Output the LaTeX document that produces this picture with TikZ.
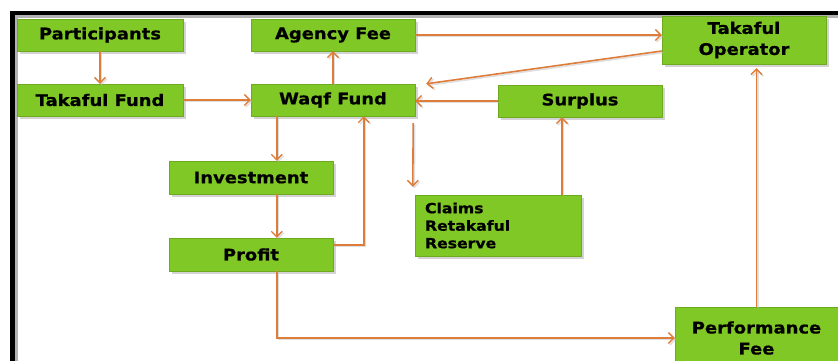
\documentclass[tikz,border=0pt]{standalone}
\usepackage{fontspec}
\setmainfont{DejaVu Sans}[FakeStretch=1.12, BoldFeatures={FakeBold=0.6}]
\usetikzlibrary{arrows.meta,shadows,calc}
\definecolor{boxgreen}{RGB}{128,200,38}
\definecolor{flow}{RGB}{222,124,58}
\tikzset{
  stepbox/.style={draw=boxgreen!85!black, line width=0.4pt, fill=boxgreen,
    minimum width=164pt, minimum height=32pt, inner sep=2pt,
    font=\bfseries\fontsize{16}{21}\selectfont, text=black, align=center,
    drop shadow={opacity=0.35, shadow xshift=2.5pt, shadow yshift=-3pt}},
  flowline/.style={draw=flow, line width=1.6pt,
    preaction={draw=black!25, line width=1.6pt, opacity=0.5, transform canvas={xshift=1.5pt,yshift=-1.5pt}}},
  arr/.style={flowline, -{Straight Barb[length=5.5pt,width=11pt,line width=1.4pt]}},
}
\begin{document}
\begin{tikzpicture}[x=1pt,y=-1pt]
\useasboundingbox (0,0) rectangle (838,361);
\clip (0,0) rectangle (838,361);
% outer frame (top and left edges)
\draw[black!30, line width=4pt] (14,16) -- (838,16);
\draw[black!30, line width=4pt] (16,15) -- (16,361);
\draw[black, line width=4pt] (10,13) -- (838,13);
\draw[black, line width=5pt] (12.5,11) -- (12.5,361);

% boxes
\node[stepbox, minimum width=166pt] (part)    at (100,35)   {Participants};
\node[stepbox]                      (agency)  at (333,35)   {Agency Fee};
\node[stepbox, minimum height=48pt] (oper)    at (744,40)   {\raisebox{-2pt}{Takaful}\\\raisebox{-2pt}{Operator}};
\node[stepbox, minimum width=166pt] (tfund)   at (100,100)  {Takaful Fund};
\node[stepbox]                      (waqf)    at (333,100)  {Waqf Fund};
\node[stepbox]                      (surplus) at (580,101)  {Surplus};
\node[stepbox, minimum height=33pt] (invest)  at (251,177.5){Investment};
\node[stepbox, minimum height=33pt] (profit)  at (251,254.5){Profit};
\node[stepbox, minimum width=166pt, minimum height=61pt,
      align=left, text width=146pt, inner xsep=10pt,
      font=\bfseries\fontsize{14}{17.5}\selectfont] (claims) at (498,225.5)
      {Claims\\Retakaful\\Reserve};
\node[stepbox, minimum width=163pt, minimum height=62pt] (perf) at (756.5,338)
      {Performance\\Fee};

% helper points
\coordinate (w2i)  at ($(waqf.south west)+(26,0)$);
\coordinate (p2w)  at ($(profit.east)+(0,-9.5)$);
\coordinate (wret) at ($(waqf.south west)+(113,0)$);
\coordinate (o2w)  at ($(oper.west)+(0,11)$);
\coordinate (w2o)  at ($(waqf.north east)+(11,0)$);
\coordinate (wc1)  at ($(waqf.south east)+(-2,7)$);
\coordinate (wc2)  at ($(claims.north west)+(-2,-8)$);
\coordinate (cs)   at ($(surplus.south)+(-18,0)$);
\coordinate (pdn)  at ($(profit.south west)+(108,0)$);

% connectors
\draw[arr] (part) -- (tfund);
\draw[arr] (tfund) -- (waqf);
\draw[arr] (waqf) -- (agency);
\draw[arr] (agency.east) -- (agency.east -| oper.west);
\draw[arr] (o2w) -- (w2o);
\draw[arr] (surplus.west) -- (surplus.west -| waqf.east);
\draw[arr] (w2i) -- (w2i |- invest.north);
\draw[arr] (w2i |- invest.south) -- (w2i |- profit.north);
\draw[arr] (p2w) -- (p2w -| wret) -- (wret);
\draw[arr] (wc1) -- (wc2);
\draw[arr] (cs |- claims.north) -- (cs);
\draw[arr, shorten >=4pt] (perf.north) -- (perf.north |- oper.south);
\draw[arr] (pdn) -- (pdn |- perf.west) -- (perf.west);
\end{tikzpicture}
\end{document}
